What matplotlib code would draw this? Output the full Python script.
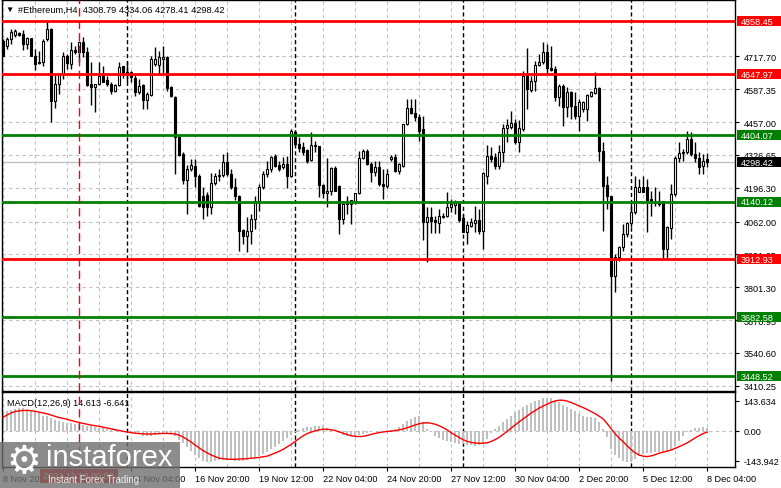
import numpy as np
import matplotlib
matplotlib.use("Agg")
import matplotlib.pyplot as plt
from matplotlib.patches import Rectangle
from matplotlib.transforms import blended_transform_factory

plt.rcParams['font.family'] = ['Liberation Sans', 'DejaVu Sans']

# H4 candles, 8 Nov 2021 20:00 -> 8 Dec 2021 04:00
opens = [
    4780, 4761, 4787, 4803, 4810, 4807, 4767, 4790, 4718, 4697,
    4695, 4787, 4827, 4542, 4607, 4648, 4721, 4688, 4743, 4734,
    4774, 4734, 4608, 4595, 4607, 4641, 4624, 4608, 4582, 4604,
    4679, 4655, 4655, 4631, 4578, 4604, 4546, 4565, 4688, 4685,
    4708, 4714, 4595, 4558, 4398, 4330, 4228, 4271, 4284, 4244,
    4165, 4168, 4119, 4215, 4243, 4247, 4300, 4251, 4198, 4165,
    4030, 4006, 4026, 4072, 4145, 4198, 4251, 4271, 4322, 4287,
    4277, 4291, 4242, 4419, 4370, 4357, 4347, 4308, 4361, 4361,
    4207, 4175, 4185, 4274, 4204, 4072, 4132, 4132, 4138, 4175,
    4313, 4343, 4291, 4258, 4277, 4211, 4202, 4310, 4317, 4264,
    4284, 4450, 4512, 4493, 4477, 4430, 4061, 4079, 4069, 4056,
    4079, 4083, 4119, 4129, 4132, 4075, 4022, 4046, 4056, 4069,
    4026, 4244, 4324, 4317, 4284, 4337, 4432, 4436, 4453, 4377,
    4430, 4641, 4586, 4621, 4684, 4695, 4734, 4671, 4668, 4556,
    4602, 4516, 4575, 4522, 4482, 4509, 4509, 4560, 4573, 4591,
    4343, 4207, 4165, 3845, 3920, 3960, 4013, 4056, 4099, 4181,
    4198, 4198, 4152, 4136, 4136, 4145, 3953, 4035, 4171, 4313,
    4337, 4337, 4390, 4330, 4313, 4284, 4308.79]
highs = [
    4787, 4794, 4827, 4827, 4815, 4823, 4794, 4793, 4747, 4741,
    4787, 4853, 4831, 4648, 4652, 4734, 4728, 4776, 4761, 4775,
    4794, 4754, 4695, 4608, 4695, 4681, 4639, 4615, 4608, 4695,
    4681, 4700, 4661, 4648, 4628, 4608, 4575, 4718, 4754, 4741,
    4761, 4720, 4602, 4562, 4402, 4338, 4287, 4310, 4310, 4251,
    4199, 4179, 4255, 4255, 4271, 4330, 4338, 4271, 4235, 4168,
    4032, 4080, 4092, 4165, 4211, 4264, 4304, 4324, 4330, 4303,
    4318, 4324, 4430, 4426, 4397, 4377, 4350, 4419, 4383, 4363,
    4211, 4313, 4278, 4281, 4207, 4145, 4165, 4148, 4175, 4343,
    4350, 4350, 4297, 4304, 4304, 4271, 4271, 4326, 4330, 4295,
    4450, 4549, 4549, 4549, 4489, 4481, 4119, 4119, 4085, 4112,
    4096, 4178, 4152, 4149, 4138, 4092, 4065, 4075, 4125, 4112,
    4258, 4366, 4357, 4334, 4366, 4450, 4469, 4502, 4469, 4467,
    4660, 4750, 4641, 4701, 4728, 4774, 4767, 4761, 4681, 4608,
    4608, 4595, 4582, 4575, 4549, 4542, 4569, 4582, 4655, 4597,
    4377, 4244, 4165, 3933, 3966, 4052, 4059, 4138, 4244, 4231,
    4244, 4231, 4185, 4198, 4185, 4145, 4046, 4211, 4324, 4377,
    4350, 4423, 4419, 4377, 4337, 4330, 4334.06]
lows = [
    4720, 4747, 4767, 4794, 4799, 4745, 4747, 4720, 4665, 4688,
    4681, 4780, 4459, 4512, 4569, 4628, 4668, 4668, 4728, 4695,
    4714, 4602, 4525, 4496, 4604, 4615, 4602, 4569, 4578, 4602,
    4631, 4615, 4615, 4562, 4569, 4509, 4509, 4562, 4681, 4648,
    4648, 4582, 4556, 4251, 4322, 4211, 4092, 4264, 4199, 4120,
    4072, 4084, 4092, 4207, 4223, 4239, 4243, 4191, 4148, 3946,
    3973, 3940, 3973, 4032, 4105, 4191, 4238, 4258, 4279, 4263,
    4271, 4194, 4238, 4363, 4337, 4326, 4295, 4304, 4337, 4158,
    4154, 4119, 4168, 4183, 4013, 4052, 4092, 4052, 4132, 4171,
    4310, 4287, 4220, 4244, 4204, 4152, 4194, 4304, 4258, 4251,
    4277, 4446, 4489, 4463, 4383, 3990, 3900, 4017, 4017, 4017,
    4076, 4079, 4099, 4092, 4059, 4019, 3973, 4039, 4019, 4013,
    3953, 4211, 4297, 4271, 4271, 4297, 4377, 4430, 4370, 4337,
    4423, 4509, 4575, 4582, 4679, 4688, 4648, 4661, 4542, 4522,
    4443, 4476, 4469, 4469, 4423, 4496, 4463, 4556, 4569, 4301,
    4026, 4112, 3430, 3783, 3907, 3946, 3999, 4039, 4092, 4178,
    4178, 4019, 4085, 4125, 4125, 3916, 3916, 3993, 4165, 4297,
    4304, 4330, 4324, 4297, 4251, 4251, 4278.41]
closes = [
    4721, 4787, 4816, 4820, 4803, 4767, 4790, 4721, 4688, 4691,
    4780, 4827, 4542, 4608, 4648, 4718, 4691, 4743, 4734, 4774,
    4734, 4604, 4595, 4608, 4641, 4617, 4608, 4582, 4604, 4675,
    4648, 4648, 4635, 4578, 4602, 4546, 4569, 4708, 4708, 4714,
    4714, 4591, 4560, 4398, 4326, 4228, 4271, 4287, 4244, 4125,
    4119, 4120, 4215, 4243, 4247, 4299, 4251, 4198, 4165, 4026,
    4006, 4026, 4072, 4145, 4198, 4251, 4271, 4318, 4283, 4271,
    4291, 4242, 4423, 4370, 4353, 4339, 4304, 4366, 4366, 4207,
    4175, 4185, 4274, 4185, 4072, 4132, 4145, 4148, 4175, 4313,
    4343, 4291, 4258, 4277, 4211, 4202, 4251, 4317, 4263, 4291,
    4450, 4512, 4493, 4476, 4423, 4061, 4079, 4065, 4059, 4083,
    4083, 4119, 4132, 4136, 4069, 4022, 4048, 4059, 4069, 4026,
    4255, 4324, 4310, 4284, 4337, 4432, 4446, 4453, 4377, 4432,
    4641, 4588, 4621, 4684, 4695, 4734, 4671, 4665, 4556, 4602,
    4516, 4575, 4522, 4482, 4536, 4536, 4565, 4575, 4591, 4343,
    4204, 4162, 3845, 3920, 3960, 4013, 4056, 4099, 4198, 4198,
    4181, 4149, 4145, 4138, 4132, 3953, 4039, 4171, 4313, 4333,
    4333, 4390, 4330, 4313, 4278, 4304, 4298.42]

macd_main = [
    88, 94, 101, 106, 107, 107, 104, 101, 91, 85,
    72, 69, 59, 50, 45, 43, 37, 35, 34, 32,
    29, 24, 22, 19, 14, 11, 8, 5, 3, 2,
    0, -3, -8, -13, -18, -24, -27, -26, -21, -16,
    -13, -11, -16, -27, -43, -59, -77, -96, -117, -133,
    -144, -149, -150, -146, -142, -141, -141, -142, -144, -146,
    -144, -138, -133, -126, -120, -112, -101, -88, -77, -66,
    -51, -37, -21, -5, 5, 11, 16, 19, 22, 24,
    21, 14, 6, -3, -13, -21, -26, -27, -27, -22,
    -16, -10, -5, -2, 0, 0, 2, 5, 8, 16,
    32, 45, 56, 64, 70, 43, 8, -8, -24, -35,
    -43, -50, -54, -59, -62, -66, -69, -70, -72, -70,
    -61, -40, -11, 8, 21, 40, 56, 72, 88, 99,
    112, 123, 133, 142, 149, 155, 158, 158, 147, 136,
    125, 114, 104, 93, 82, 72, 67, 64, 61, 43,
    8, -32, -88, -117, -133, -144, -150, -152, -136, -120,
    -112, -109, -106, -104, -102, -101, -98, -91, -72, -48,
    -24, -5, 5, 11, 14, 18, 14.613]
macd_signal = [
    64, 75, 85, 92, 95, 97, 97, 96, 93, 89,
    85, 81, 75, 69, 63, 59, 55, 49, 44, 39,
    35, 31, 27, 24, 21, 17, 13, 9, 5, 1,
    -3, -6, -9, -12, -14, -15, -16, -16, -15, -14,
    -13, -13, -14, -16, -21, -30, -42, -54, -68, -82,
    -95, -106, -116, -124, -131, -134, -136, -137, -137, -136,
    -135, -134, -132, -130, -128, -125, -122, -115, -107, -99,
    -90, -78, -66, -52, -38, -25, -14, -7, -1, 4,
    7, 7, 5, 1, -5, -12, -18, -24, -27, -28,
    -27, -23, -18, -13, -9, -6, -4, -2, 0, 4,
    8, 14, 20, 27, 33, 37, 38, 36, 31, 24,
    15, 4, -9, -21, -32, -43, -51, -56, -59, -60,
    -60, -58, -52, -43, -32, -18, -4, 12, 27, 42,
    56, 70, 84, 96, 108, 118, 127, 136, 142, 146,
    146, 142, 135, 127, 119, 111, 102, 92, 82, 70,
    57, 35, 10, -14, -35, -52, -72, -90, -105, -116,
    -122, -124, -121, -115, -108, -103, -98, -93, -85, -77,
    -68, -59, -47, -35, -24, -14, -6.641]

levels = [4858.45, 4647.97, 4404.07, 4140.12, 3912.93, 3682.58, 3448.52]
level_colors = ['#ff0000', '#ff0000', '#008000', '#008000', '#ff0000', '#008000', '#008000']
last_price = 4298.42
price_ticks = [4717.70, 4587.35, 4457.00, 4326.65, 4196.30, 4062.00,
               3931.65, 3801.30, 3670.95, 3540.60, 3410.25]
price_tick_labels = ['4717.70', '4587.35', '4457.00', '4326.65', '4196.30', '4062.00',
                     '3931.65', '3801.30', '3670.95', '3540.60', '3410.25']
macd_ticks = [143.634, 0.0, -143.942]
macd_tick_labels = ['143.634', '0.00', '-143.942']
# second label (11 Nov 12:00) sits under the red time marker box in the original
time_labels = ['8 Nov 2021', '', '14 Nov 04:00', '16 Nov 20:00', '19 Nov 12:00',
               '22 Nov 04:00', '24 Nov 20:00', '27 Nov 12:00', '30 Nov 04:00', '2 Dec 20:00',
               '5 Dec 12:00', '8 Dec 04:00']
week_starts = [31, 73, 115, 157]   # bar index of period separators
vline_bar = 19                      # 2021.11.12 00:00 marker

o = np.array(opens, float)
h = np.array(highs, float)
l = np.array(lows, float)
c = np.array(closes, float)
n = len(c)
x = np.arange(n)

W, H = 781, 489
fig = plt.figure(figsize=(W / 100, H / 100), dpi=100)
fig.patch.set_facecolor('white')
ax = fig.add_axes([2 / W, 1 - 392 / H, 733 / W, 391 / H])
am = fig.add_axes([2 / W, 1 - 468 / H, 733 / W, 75 / H])

grid_kw = dict(color='#c0c0c0', lw=0.8, ls=(0, (3, 3)))

# ---- price panel ----
ax.set_xlim(-0.25, 183)
ax.set_ylim(3389, 4942)
for xv in range(0, 184, 8):
    ax.axvline(xv, zorder=0, **grid_kw)
for yv in price_ticks:
    ax.axhline(yv, zorder=0, **grid_kw)
ax.axhline(last_price, color='#c0c0c0', lw=1, zorder=1)

ax.vlines(x, l, h, color='black', lw=1, zorder=3)
up = c >= o
lo = np.minimum(o, c)
ht = np.maximum(np.abs(c - o), 2.0)
ax.bar(x[up], ht[up], bottom=lo[up], width=0.55, color='white', edgecolor='black', lw=0.8, zorder=4)
ax.bar(x[~up], ht[~up], bottom=lo[~up], width=0.55, color='black', edgecolor='black', lw=0.8, zorder=4)

for lv, col in zip(levels, level_colors):
    ax.axhline(lv, color=col, lw=2, zorder=5)

for ws in week_starts:
    ax.axvline(ws, color='black', lw=1, ls=(0, (3, 2)), zorder=2)
    am.axvline(ws, color='black', lw=1, ls=(0, (3, 2)), zorder=2)
ax.axvline(vline_bar, color='#ff0000', lw=1, ls=(0, (6, 3)), zorder=6)
am.axvline(vline_bar, color='#ff0000', lw=1, ls=(0, (6, 3)), zorder=6)

ax.yaxis.tick_right()
ax.set_yticks(price_ticks)
ax.set_yticklabels(price_tick_labels)
ax.tick_params(axis='y', length=3, width=0.8, pad=3, labelsize=6.6, colors='black')
ax.set_xticks([])
for sp in ax.spines.values():
    sp.set_color('black')
    sp.set_linewidth(1)

tr = blended_transform_factory(ax.transAxes, ax.transData)
box_h = 10 * (4942 - 3389) / 391
for lv, col in list(zip(levels, level_colors)) + [(last_price, 'black')]:
    ax.add_patch(Rectangle((1.0027, lv - box_h / 2), 0.06, box_h, transform=tr,
                           facecolor=col, edgecolor='none', clip_on=False, zorder=8))
    ax.text(1.0082, lv, f'{lv:.2f}', transform=tr, color='white', fontsize=6.6,
            va='center', ha='left', zorder=9, clip_on=False)

# ---- MACD panel ----
am.set_xlim(-0.25, 183)
am.set_ylim(-173.9, 185.4)
for xv in range(0, 184, 8):
    am.axvline(xv, zorder=0, **grid_kw)
am.axhline(0, zorder=0, **grid_kw)
am.bar(x, macd_main, width=0.5, color='#c0c0c0', zorder=2)
am.plot(x, macd_signal, color='#ff0000', lw=1, zorder=3)
am.yaxis.tick_right()
am.set_yticks(macd_ticks)
am.set_yticklabels(macd_tick_labels)
am.tick_params(axis='y', length=3, width=0.8, pad=3, labelsize=6.6)
am.set_xticks(range(0, n, 16))
am.set_xticklabels(time_labels)
am.tick_params(axis='x', length=3, width=0.8, pad=2, labelsize=6.6)
for t in am.get_xticklabels():
    t.set_ha('left')
for sp in am.spines.values():
    sp.set_color('black')
    sp.set_linewidth(1)
am.text(0.0068, 0.86, 'MACD(12,26,9) 14.613 -6.641', transform=am.transAxes,
        fontsize=6.6, va='center', ha='left')

# ---- title ----
fig.text(5 / W, 1 - 10 / H, '\u25bc', fontsize=6, va='center', ha='left')
fig.text(18 / W, 1 - 10 / H, '#Ethereum,H4  4308.79 4334.06 4278.41 4298.42',
         fontsize=6.7, va='center', ha='left')

# ---- vertical line time label and watermark ----
fig.patches.append(Rectangle((40 / W, 1 - 484 / H), 78 / W, 14 / H, transform=fig.transFigure,
                             facecolor='#e01010', edgecolor='none', zorder=1))
fig.text(43 / W, 1 - 477 / H, '2021.11.12 00:00', color='white', fontsize=6.6,
         va='center', ha='left', zorder=1)
fig.patches.append(Rectangle((0, 0), 180 / W, 46 / H, transform=fig.transFigure,
                             facecolor='#6f6f6f', alpha=0.8, edgecolor='none', zorder=2))
fig.text(24 / W, 1 - 462 / H, '\u2699', color='white', fontsize=28, va='center',
         ha='center', family=['DejaVu Sans'], zorder=3)
fig.text(46 / W, 1 - 458 / H, 'instaforex', color='white', fontsize=21, va='center',
         ha='left', zorder=3)
fig.text(48 / W, 1 - 480 / H, 'Instant Forex Trading', color='#eeeeee', fontsize=6.9,
         va='center', ha='left', zorder=3)

fig.savefig('out.png', dpi=100)
